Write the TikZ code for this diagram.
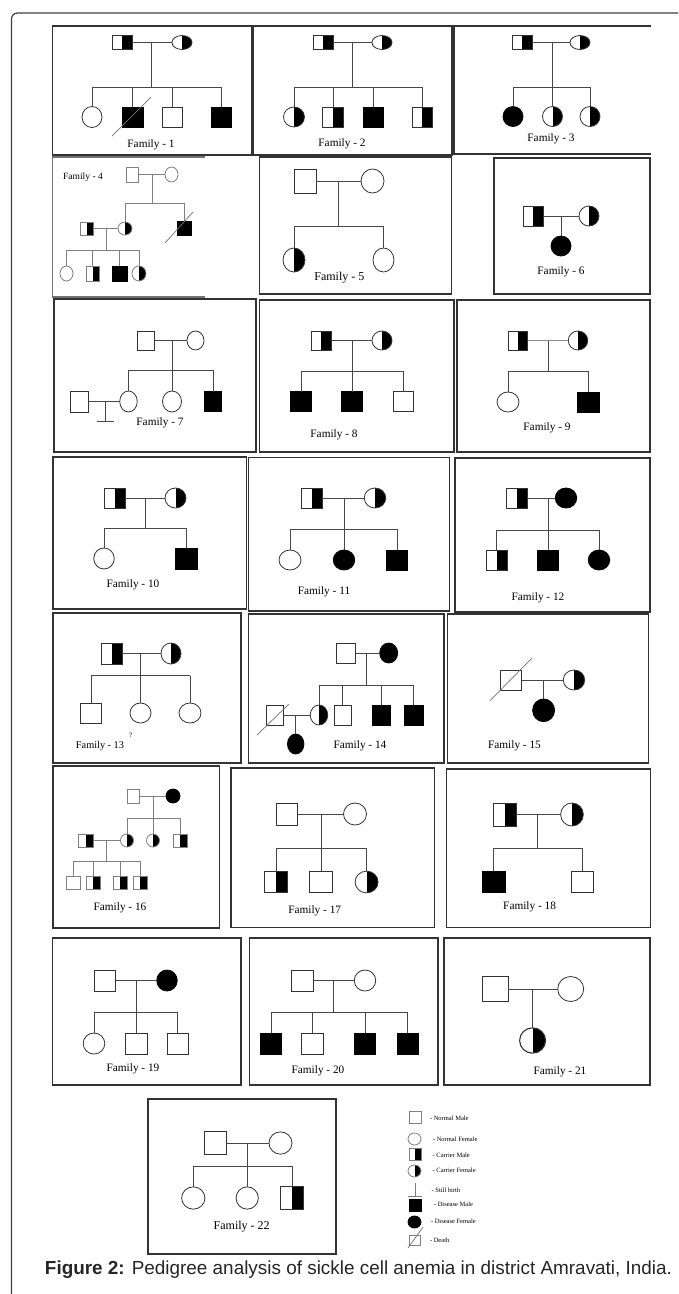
\documentclass[tikz,border=0pt]{standalone}
\usepackage{fontspec}
\setmainfont{Liberation Serif}
\newfontfamily\capfont{Liberation Sans}
\usepackage{graphicx}
\usetikzlibrary{shapes.geometric,calc}
\newcommand\kids[3]{\foreach \k in {#3}{\draw[#1] (\k |- #2) -- (\k.north);}}
\begin{document}
\begin{tikzpicture}[x=1pt,y=-1pt,
 every node/.append style={inner sep=0pt,outer sep=0pt},
 box/.style={draw=black!80,line width=1.1pt},
 ln/.style={draw=black!72,line width=0.9pt},
 lnl/.style={draw=black!50,line width=0.8pt},
 sq/.style 2 args={rectangle,minimum width=#1pt,minimum height=#2pt},
 el/.style 2 args={ellipse,minimum width=#1pt,minimum height=#2pt},
 nm/.style={draw=black!80,line width=0.8pt,fill=white},
 cr/.style={draw=black!80,line width=0.8pt,fill=white,path picture={\fill[black] (path picture bounding box.north) rectangle (path picture bounding box.south east);}},
 ds/.style={draw=black,line width=0.8pt,fill=black},
 lite/.style={draw=black!50},
 slash/.style={draw=black!55,line width=0.7pt},
 lbl/.style={font=\fontsize{11.3}{13}\selectfont},
 lgt/.style={font=\fontsize{6.5}{7}\selectfont,anchor=west},
]
\useasboundingbox (0,0) rectangle (678,1294);
\fill[white] (0,0) rectangle (678,1294);
% outer frame
\draw[line width=1.2pt,black!75,rounded corners=6pt] (11.5,1294) -- (11.5,13) -- (678,13);

% ---------------- Row 1 boxes
\draw[box] (52.7,26) rectangle (252,155);
\draw[box] (253,26) rectangle (452,155);
\draw[box] (651,26) -- (454,26) -- (454,154) -- (651,154);

% Family 1
\node[sq={20}{14},cr] (f1a) at (122,42.5) {};
\node[el={20}{14},cr] (f1b) at (182,42.5) {};
\draw[ln] (f1a) -- (f1b);
\coordinate (f1m) at (151,42.5); \coordinate (f1s) at (151,87);
\draw[ln] (f1m) -- (f1s);
\node[el={20}{21},nm] (f1c1) at (92,117) {};
\node[sq={21}{20},ds] (f1c2) at (132.5,117) {};
\node[sq={20}{20},nm] (f1c3) at (172,117) {};
\node[sq={20}{20},ds] (f1c4) at (221,117) {};
\draw[ln] (f1c1 |- f1s) -- (f1c4 |- f1s);
\kids{ln}{f1s}{f1c1,f1c2,f1c3,f1c4}
\draw[slash] ($(f1c2)+(-20.5,19)$) -- ($(f1c2)+(18.5,-20)$);
\node[lbl] (f1l) at (151,145) {Family - 1};

% Family 2
\node[sq={20}{14},cr] (f2a) at (323,42.5) {};
\node[el={20}{14},cr] (f2b) at (382,42.5) {};
\draw[ln] (f2a) -- (f2b);
\coordinate (f2m) at (352,42.5); \coordinate (f2s) at (352,87);
\draw[ln] (f2m) -- (f2s);
\node[el={21}{20},cr] (f2c1) at (294,117) {};
\node[sq={21}{20},cr] (f2c2) at (333,117) {};
\node[sq={20}{20},ds] (f2c3) at (373,117) {};
\node[sq={20}{20},cr] (f2c4) at (422,117) {};
\draw[ln] (f2c1 |- f2s) -- (f2c4 |- f2s);
\kids{ln}{f2s}{f2c1,f2c2,f2c3,f2c4}
\node[lbl] (f2l) at (342,144) {Family - 2};

% Family 3
\node[sq={20}{14},cr] (f3a) at (522,42.5) {};
\node[el={20}{14},cr] (f3b) at (580,42.5) {};
\draw[ln] (f3a) -- (f3b);
\coordinate (f3m) at (552.5,42.5); \coordinate (f3s) at (552.5,87);
\node[el={20}{20},ds] (f3c1) at (513,116.5) {};
\node[el={20}{20},cr] (f3c2) at (552.5,116.5) {};
\node[el={20}{20},cr] (f3c3) at (590,116.5) {};
\draw[ln] (f3m) -- (f3c2.north);
\draw[ln] (f3c1 |- f3s) -- (f3c3 |- f3s);
\kids{ln}{f3s}{f3c1,f3c3}
\node[lbl] (f3l) at (551,139) {Family - 3};

% ---------------- Row 2
\draw[box,draw=black!55] (205,157) -- (52.7,157) -- (52.7,297) -- (205,297);
\draw[box] (259.4,157) rectangle (451.8,294);
\draw[box] (494,158) rectangle (650,294);

% Family 4
\node[font=\fontsize{9.5}{11}\selectfont] (f4l) at (83,177) {Family - 4};
\node[sq={12}{15},nm,lite] (f4a) at (132,174.5) {};
\node[el={13}{15},nm,lite] (f4b) at (171.5,174.5) {};
\draw[lnl] (f4a) -- (f4b);
\coordinate (f4m) at (152,174.5); \coordinate (f4s) at (152,203);
\draw[lnl] (f4m) -- (f4s);
\node[el={14}{13},cr,lite] (f4c1) at (125,228.5) {};
\node[sq={14}{14},ds] (f4c2) at (184,228) {};
\draw[lnl] (f4c1 |- f4s) -- (f4c2 |- f4s);
\kids{lnl}{f4s}{f4c1,f4c2}
\draw[slash] ($(f4c2)+(-19,15)$) -- ($(f4c2)+(9,-16)$);
\node[sq={13}{13},cr,lite] (f4h) at (86.5,228.5) {};
\draw[lnl] (f4h) -- (f4c1);
\coordinate (f4m2) at (106,228.5); \coordinate (f4s2) at (106,250);
\draw[lnl] (f4m2) -- (f4s2);
\node[el={13}{15},nm,lite] (f4g1) at (66.5,273.5) {};
\node[sq={13}{15},cr,lite] (f4g2) at (92.5,273.5) {};
\node[sq={15}{15},ds] (f4g3) at (119.5,273.5) {};
\node[el={14}{15},cr,lite] (f4g4) at (139,273.5) {};
\draw[lnl] (f4g1 |- f4s2) -- (f4g4 |- f4s2);
\kids{lnl}{f4s2}{f4g1,f4g2,f4g3,f4g4}

% Family 5
\node[sq={22}{24},nm] (f5a) at (305,181) {};
\node[el={23}{24},nm] (f5b) at (372.5,181) {};
\draw[ln] (f5a) -- (f5b);
\coordinate (f5m) at (338.5,181); \coordinate (f5s) at (338.5,226);
\draw[ln] (f5m) -- (f5s);
\node[el={22}{24},cr] (f5c1) at (294,260) {};
\node[el={21}{24},nm] (f5c2) at (383.5,260) {};
\draw[ln] (f5c1 |- f5s) -- (f5c2 |- f5s);
\kids{ln}{f5s}{f5c1,f5c2}
\node[font=\fontsize{12}{14}\selectfont] (f5l) at (339.4,278) {Family - 5};

% Family 6
\node[sq={20}{20},cr] (f6a) at (533,216) {};
\node[el={20}{20},cr] (f6b) at (589,216) {};
\draw[ln] (f6a) -- (f6b);
\coordinate (f6m) at (561,216);
\node[el={20}{20},ds] (f6c) at (561,246) {};
\draw[ln] (f6m) -- (f6c.north);
\node[lbl] (f6l) at (561,271.7) {Family - 6};

% ---------------- Row 3
\draw[box] (54,299) rectangle (256,452);
\draw[box] (259.4,300) rectangle (454,452);
\draw[box] (457,300) rectangle (650,452);

% Family 7
\node[sq={17.5}{19},nm] (f7a) at (146,340.5) {};
\node[el={17}{19},nm] (f7b) at (195.5,340.5) {};
\draw[ln] (f7a) -- (f7b);
\coordinate (f7m) at (172,340.5); \coordinate (f7s) at (172,370);
\node[el={17.5}{21},nm] (f7c1) at (128.5,401.5) {};
\node[el={19}{21},nm] (f7c2) at (172,401.5) {};
\node[sq={17}{20},ds] (f7c3) at (213,401.5) {};
\draw[ln] (f7m) -- (f7c2.north);
\draw[ln] (f7c1 |- f7s) -- (f7c3 |- f7s);
\kids{ln}{f7s}{f7c1,f7c3}
\node[sq={18}{21},nm] (f7h) at (79.5,401.5) {};
\draw[ln] (f7h) -- (f7c1);
\coordinate (f7sbt) at (105,401.5); \coordinate (f7sb) at (105,421);
\draw[ln] (f7sbt) -- (f7sb);
\draw[ln] ($(f7sb)+(-8.5,0)$) -- ($(f7sb)+(8.5,0)$);
\node[lbl] (f7l) at (160,423) {Family - 7};

% Family 8
\node[sq={20}{19},cr] (f8a) at (321,340.5) {};
\node[el={20}{19},cr] (f8b) at (382,340.5) {};
\draw[ln] (f8a) -- (f8b);
\coordinate (f8m) at (352,340.5); \coordinate (f8s) at (352,371);
\node[sq={21.5}{20},ds] (f8c1) at (301,401.7) {};
\node[sq={21.5}{20},ds] (f8c2) at (352,401.7) {};
\node[sq={20}{20},nm] (f8c3) at (403,401.7) {};
\draw[ln] (f8m) -- (f8c2.north);
\draw[ln] (f8c1 |- f8s) -- (f8c3 |- f8s);
\kids{ln}{f8s}{f8c1,f8c3}
\node[lbl] (f8l) at (334,435) {Family - 8};

% Family 9
\node[sq={19.5}{19},cr] (f9a) at (518,340.5) {};
\node[el={19.5}{19},cr] (f9b) at (578,340.5) {};
\draw[ln,draw=black!45] (f9a) -- (f9b);
\coordinate (f9m) at (548,340.5); \coordinate (f9s) at (548,371);
\draw[ln] (f9m) -- (f9s);
\node[el={22}{20},nm] (f9c1) at (508,402) {};
\node[sq={22}{20},ds] (f9c2) at (588,402) {};
\draw[ln] (f9c1 |- f9s) -- (f9c2 |- f9s);
\kids{ln}{f9s}{f9c1,f9c2}
\node[lbl] (f9l) at (547,428) {Family - 9};

% ---------------- Row 4
\draw[box] (53,457) rectangle (246.4,609);
\draw[box] (248.6,457.7) rectangle (449.6,611);
\draw[box] (455,458) rectangle (650,612);

% Family 10
\node[sq={21}{20},cr] (f10a) at (114.7,498) {};
\node[el={21}{20},cr] (f10b) at (175.5,498) {};
\draw[ln] (f10a) -- (f10b);
\coordinate (f10m) at (145,498); \coordinate (f10s) at (145,528);
\draw[ln] (f10m) -- (f10s);
\node[el={20.5}{21},nm] (f10c1) at (104,558.5) {};
\node[sq={22}{21},ds] (f10c2) at (186,558.5) {};
\draw[ln] (f10c1 |- f10s) -- (f10c2 |- f10s);
\kids{ln}{f10s}{f10c1,f10c2}
\node[lbl] (f10l) at (133,585) {Family - 10};

% Family 11
\node[sq={21}{20},cr] (f11a) at (311.5,498) {};
\node[el={21.5}{20},cr] (f11b) at (375,498) {};
\draw[ln] (f11a) -- (f11b);
\coordinate (f11m) at (344,498); \coordinate (f11s) at (344,529);
\node[el={22}{20},nm] (f11c1) at (290,560) {};
\node[el={21.5}{20},ds] (f11c2) at (344,560) {};
\node[sq={21.5}{20},ds] (f11c3) at (397,560) {};
\draw[ln] (f11m) -- (f11c2.north);
\draw[ln] (f11c1 |- f11s) -- (f11c3 |- f11s);
\kids{ln}{f11s}{f11c1,f11c3}
\node[lbl] (f11l) at (324,591.7) {Family - 11};

% Family 12
\node[sq={20.5}{20},cr] (f12a) at (517,498) {};
\node[el={21.5}{20},ds] (f12b) at (566,498) {};
\draw[ln] (f12a) -- (f12b);
\coordinate (f12m) at (548,498); \coordinate (f12s) at (548,530);
\node[sq={21}{20},cr] (f12c1) at (496.6,560) {};
\node[sq={21}{20},ds] (f12c2) at (548,560) {};
\node[el={21.5}{20},ds] (f12c3) at (599,560) {};
\draw[ln] (f12m) -- (f12c2.north);
\draw[ln] (f12c1 |- f12s) -- (f12c3 |- f12s);
\kids{ln}{f12s}{f12c1,f12c3}
\node[lbl] (f12l) at (538,598) {Family - 12};

% ---------------- Row 5
\draw[box] (53,613) rectangle (241,763);
\draw[box] (248.6,614) rectangle (444,763);
\draw[box] (447.5,614) rectangle (648.5,763);

% Family 13
\node[sq={20.5}{21},cr] (f13a) at (112,653.5) {};
\node[el={20}{21},cr] (f13b) at (171,653.5) {};
\draw[ln] (f13a) -- (f13b);
\coordinate (f13m) at (140.5,653.5); \coordinate (f13s) at (140.5,675.7);
\node[sq={20.5}{20},nm] (f13c1) at (91,713) {};
\node[el={21}{20},nm] (f13c2) at (140.5,713) {};
\node[el={22}{20},nm] (f13c3) at (190,713) {};
\draw[ln] (f13m) -- (f13c2.north);
\draw[ln] (f13c1 |- f13s) -- (f13c3 |- f13s);
\kids{ln}{f13s}{f13c1,f13c3}
\node[font=\fontsize{10.3}{12}\selectfont] (f13l) at (100,746) {Family - 13};
\node[font=\fontsize{7}{8}\selectfont] (f13q) at (130.6,735) {?};

% Family 14
\node[sq={19.5}{20},nm] (f14a) at (346,653) {};
\node[el={18}{20},ds] (f14b) at (388.7,653) {};
\draw[ln] (f14a) -- (f14b);
\coordinate (f14m) at (366.6,653); \coordinate (f14s) at (366.6,685);
\draw[ln] (f14m) -- (f14s);
\node[el={17.5}{20},cr] (f14c1) at (319,715) {};
\node[sq={17}{20},nm] (f14c2) at (342.6,715) {};
\node[sq={18}{20},ds] (f14c3) at (381,715) {};
\node[sq={19}{20},ds] (f14c4) at (413.5,715) {};
\draw[ln] (f14c1 |- f14s) -- (f14c4 |- f14s);
\kids{ln}{f14s}{f14c1,f14c2,f14c3,f14c4}
\node[sq={17}{20},nm] (f14h) at (274.6,715) {};
\draw[slash] ($(f14h)+(-17.6,20)$) -- ($(f14h)+(14.4,-11)$);
\draw[ln] (f14h) -- (f14c1);
\coordinate (f14m2) at (295.7,715);
\node[el={16.5}{20},ds] (f14g) at (295.7,744) {};
\draw[ln] (f14m2) -- (f14g.north);
\node[lbl] (f14l) at (360,746) {Family - 14};

% Family 15
\node[sq={21.5}{20},nm] (f15a) at (511,680) {};
\draw[slash] ($(f15a)+(-21,20.7)$) -- ($(f15a)+(21,-22)$);
\node[el={21.5}{20},cr] (f15b) at (574,680) {};
\draw[ln] (f15a) -- (f15b);
\coordinate (f15m) at (543.6,680);
\node[el={22}{22.7},ds] (f15c) at (543.6,710.3) {};
\draw[ln] (f15m) -- (f15c.north);
\node[lbl] (f15l) at (514.5,746) {Family - 15};

% ---------------- Row 6
\draw[box] (53,766) rectangle (219.6,928);
\draw[box] (231,768) rectangle (434.5,927.7);
\draw[box] (446.6,769) rectangle (650.7,927.7);

% Family 16
\node[sq={12}{14},nm,lite] (f16a) at (133,796) {};
\node[el={14}{14},ds] (f16b) at (173,796) {};
\draw[lnl] (f16a) -- (f16b);
\coordinate (f16m) at (153,796); \coordinate (f16s) at (153,818);
\node[el={13}{13},cr,lite] (f16c1) at (127,840.5) {};
\node[el={13}{13},cr,lite] (f16c2) at (153,840.5) {};
\node[sq={14}{13},cr,lite] (f16c3) at (180,840.5) {};
\draw[lnl] (f16m) -- (f16c2.north);
\draw[lnl] (f16c1 |- f16s) -- (f16c3 |- f16s);
\kids{lnl}{f16s}{f16c1,f16c3}
\node[sq={15}{13},cr,lite] (f16h) at (86,840.5) {};
\draw[lnl] (f16h) -- (f16c1);
\coordinate (f16m2) at (106.7,840.5); \coordinate (f16s2) at (106.7,861);
\draw[lnl] (f16m2) -- (f16s2);
\node[sq={14}{13},nm,lite] (f16g1) at (73,883.3) {};
\node[sq={13.3}{13},cr,lite] (f16g2) at (93.3,883.3) {};
\node[sq={14}{13},cr,lite] (f16g3) at (120,883.3) {};
\node[sq={14}{13},cr,lite] (f16g4) at (140,883.3) {};
\draw[lnl] (f16g1 |- f16s2) -- (f16g4 |- f16s2);
\kids{lnl}{f16s2}{f16g1,f16g2,f16g3,f16g4}
\node[lbl] (f16l) at (120,908) {Family - 16};

% Family 17
\node[sq={21.5}{22},nm] (f17a) at (287,814) {};
\node[el={23}{22},nm] (f17b) at (355,814) {};
\draw[ln] (f17a) -- (f17b);
\coordinate (f17m) at (321.3,814); \coordinate (f17s) at (321.3,848);
\node[sq={22.5}{21.7},cr] (f17c1) at (276,882) {};
\node[sq={23}{21.7},nm] (f17c2) at (321.3,882) {};
\node[el={23}{21.7},cr] (f17c3) at (366.6,882) {};
\draw[ln] (f17m) -- (f17c2.north);
\draw[ln] (f17c1 |- f17s) -- (f17c3 |- f17s);
\kids{ln}{f17s}{f17c1,f17c3}
\node[lbl] (f17l) at (314.7,911) {Family - 17};

% Family 18
\node[sq={23}{23},cr] (f18a) at (504.5,814.5) {};
\node[el={22.7}{23},cr] (f18b) at (572,814.5) {};
\draw[ln] (f18a) -- (f18b);
\coordinate (f18m) at (537.4,814.5); \coordinate (f18s) at (537.4,848);
\draw[ln] (f18m) -- (f18s);
\node[sq={23}{21.7},ds] (f18c1) at (493.5,882) {};
\node[sq={22}{21.7},nm] (f18c2) at (582.6,882) {};
\draw[ln] (f18c1 |- f18s) -- (f18c2 |- f18s);
\kids{ln}{f18s}{f18c1,f18c2}
\node[lbl] (f18l) at (529.6,906.7) {Family - 18};

% ---------------- Row 7
\draw[box] (52.7,938) rectangle (241,1085);
\draw[box] (249.5,938) rectangle (438,1085);
\draw[box] (444,938) rectangle (650,1085);

% Family 19
\node[sq={21.4}{21},nm] (f19a) at (104.8,980.5) {};
\node[el={20.5}{21},ds] (f19b) at (167,980.5) {};
\draw[ln] (f19a) -- (f19b);
\coordinate (f19m) at (136,980.5); \coordinate (f19s) at (136,1012);
\node[el={21.6}{21},nm] (f19c1) at (94,1043.5) {};
\node[sq={22}{21},nm] (f19c2) at (136,1043.5) {};
\node[sq={21}{21},nm] (f19c3) at (177.5,1043.5) {};
\draw[ln] (f19m) -- (f19c2.north);
\draw[ln] (f19c1 |- f19s) -- (f19c3 |- f19s);
\kids{ln}{f19s}{f19c1,f19c3}
\node[lbl] (f19l) at (133,1069) {Family - 19};

% Family 20
\node[sq={21.5}{21},nm] (f20a) at (302.6,980.5) {};
\node[el={21.5}{21},nm] (f20b) at (365,980.5) {};
\draw[ln] (f20a) -- (f20b);
\coordinate (f20m) at (333.8,980.5); \coordinate (f20s) at (333.8,1012);
\draw[ln] (f20m) -- (f20s);
\node[sq={21.3}{21},ds] (f20c1) at (271,1043.5) {};
\node[sq={21.6}{21},nm] (f20c2) at (312.6,1043.5) {};
\node[sq={21.5}{21},ds] (f20c3) at (365,1043.5) {};
\node[sq={21.5}{21},ds] (f20c4) at (407.7,1043.5) {};
\draw[ln] (f20c1 |- f20s) -- (f20c4 |- f20s);
\kids{ln}{f20s}{f20c1,f20c2,f20c3,f20c4}
\node[lbl] (f20l) at (318,1071) {Family - 20};

% Family 21
\node[sq={26}{25},nm] (f21a) at (495,989) {};
\node[el={26}{25},nm] (f21b) at (570.7,989) {};
\draw[ln] (f21a) -- (f21b);
\coordinate (f21m) at (532.6,989);
\node[el={26}{25.3},cr,line width=1.1pt] (f21c) at (532.6,1040.5) {};
\draw[ln] (f21m) -- (f21c.north);
\node[lbl] (f21l) at (560,1072) {Family - 21};

% ---------------- Row 8
\draw[box] (148,1099) rectangle (336,1254);

% Family 22
\node[sq={22.7}{22.3},nm] (f22a) at (215.3,1143) {};
\node[el={23}{22.3},nm] (f22b) at (280.5,1143) {};
\draw[ln] (f22a) -- (f22b);
\coordinate (f22m) at (247.2,1143); \coordinate (f22s) at (247.2,1166);
\node[el={23.3}{22.3},nm] (f22c1) at (193.3,1198) {};
\node[el={22.3}{22.3},nm] (f22c2) at (247.2,1198) {};
\node[sq={22.6}{22.3},cr] (f22c3) at (292,1198) {};
\draw[ln] (f22m) -- (f22c2.north);
\draw[ln] (f22c1 |- f22s) -- (f22c3 |- f22s);
\kids{ln}{f22s}{f22c1,f22c3}
\node[font=\fontsize{12}{14}\selectfont] (f22l) at (241.7,1226.7) {Family - 22};

% Legend
\node[sq={12}{12},nm,lite] (lg1) at (415,1117.5) {};
\node[lgt] (lg1t) at (430,1118.3) {- Normal Male};
\node[el={13}{12},nm,lite] (lg2) at (414.5,1139) {};
\node[lgt] (lg2t) at (433,1139.3) {- Normal Female};
\node[sq={12}{12},cr,lite] (lg3) at (415,1154) {};
\node[lgt] (lg3t) at (432.7,1155) {- Carrier Male};
\node[el={13}{12},cr,lite] (lg4) at (414.5,1171) {};
\node[lgt] (lg4t) at (432.7,1170.5) {- Carrier Female};
\coordinate (lgsbt) at (415,1183); \coordinate (lgsb) at (415,1196);
\draw[lnl] (lgsbt) -- (lgsb);
\draw[lnl] ($(lgsb)+(-7,0)$) -- ($(lgsb)+(7,0)$);
\node[lgt] (lg5t) at (431.7,1190) {- Still birth};
\node[sq={12}{12},ds] (lg6) at (415,1205) {};
\node[lgt] (lg6t) at (434,1204.5) {- Disease Male};
\node[el={13}{12},ds] (lg7) at (414.5,1222) {};
\node[lgt] (lg7t) at (431,1221.7) {- Disease Female};
\node[sq={11}{10},nm,lite] (lg8) at (414.5,1240.5) {};
\draw[slash] ($(lg8)+(-6.5,7.5)$) -- ($(lg8)+(8.5,-13.5)$);
\node[lgt] (lg8t) at (430,1240.5) {- Death};

% Caption
\node[text=black!85] (cap) at (358.5,1270) {\resizebox{627pt}{!}{\capfont\textbf{Figure 2:} Pedigree analysis of sickle cell anemia in district Amravati, India.}};
\end{tikzpicture}
\end{document}
